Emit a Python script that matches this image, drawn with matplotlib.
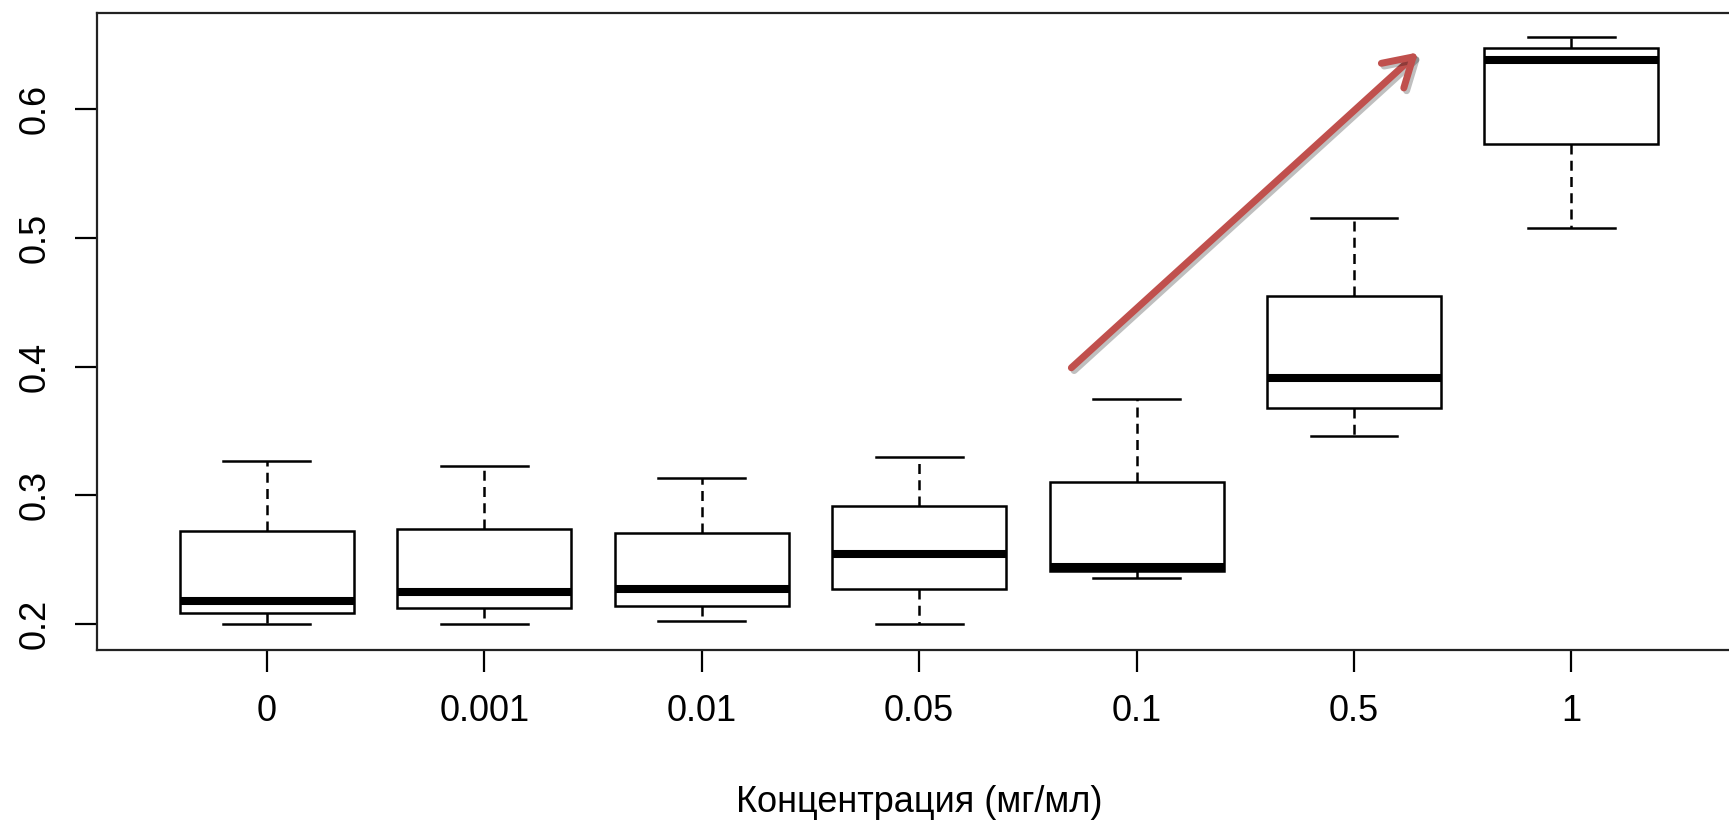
import numpy as np
import matplotlib
matplotlib.use('Agg')
import matplotlib.pyplot as plt
import matplotlib.patheffects as pe

plt.rcParams['font.family'] = ['Liberation Sans', 'DejaVu Sans']

# concentrations (mg/ml) and the five numbers of each box
concentrations = ['0', '0.001', '0.01', '0.05', '0.1', '0.5', '1']
whisker_low = [0.200, 0.200, 0.202, 0.200, 0.2357, 0.346, 0.5078]
q1 = [0.2089, 0.2127, 0.2141, 0.227, 0.2415, 0.3678, 0.573]
median = [0.2179, 0.2252, 0.227, 0.254, 0.2443, 0.391, 0.6378]
q3 = [0.272, 0.2741, 0.2703, 0.2918, 0.3103, 0.4548, 0.6472]
whisker_high = [0.3266, 0.3227, 0.3136, 0.330, 0.375, 0.5154, 0.6559]
y_ticks = [0.2, 0.3, 0.4, 0.5, 0.6]

# red arrow drawn over the chart (data coords)
arrow_from = (4.70, 0.399)
arrow_to = (6.295, 0.644)

stats = []
for i, name in enumerate(concentrations):
    stats.append(dict(label=name, whislo=whisker_low[i], q1=q1[i], med=median[i],
                      q3=q3[i], whishi=whisker_high[i], fliers=[]))

W, H = 1729, 826
fig = plt.figure(figsize=(W / 100, H / 100), dpi=100)
ax = fig.add_axes([97 / W, 1 - 650 / H, 1644 / W, 637 / H])

lw = 1.8
ax.bxp(stats, positions=range(1, 8), widths=0.8, capwidths=0.4, patch_artist=True,
       boxprops=dict(facecolor='white', edgecolor='black', linewidth=lw),
       whiskerprops=dict(color='black', linewidth=lw, linestyle=(0, (4, 2.5))),
       capprops=dict(color='black', linewidth=lw),
       medianprops=dict(color='black', linewidth=5.8, solid_capstyle='butt'),
       showfliers=False)

ax.set_xlim(0.2185, 7.78)
ax.set_ylim(0.1798, 0.6746)
ax.set_yticks(y_ticks)
ax.set_yticklabels([str(t) for t in y_ticks], rotation=90, va='center')
ax.set_xticks(range(1, 8))
ax.set_xticklabels(concentrations)
ax.tick_params(axis='both', length=15.8, width=1.6, labelsize=26, color='black')
ax.tick_params(axis='x', pad=16)
ax.tick_params(axis='y', pad=16)
for s in ax.spines.values():
    s.set_linewidth(1.6)
    s.set_color('#222222')

ax.set_xlabel('Концентрация (мг/мл)', fontsize=26, labelpad=40)

ax.annotate('', xy=arrow_to, xytext=arrow_from,
            arrowprops=dict(arrowstyle='->,head_length=1.0,head_width=0.6',
                            color='#C0504D', lw=5, mutation_scale=20,
                            capstyle='round', joinstyle='round',
                            shrinkA=0, shrinkB=0,
                            path_effects=[pe.SimpleLineShadow(offset=(2, -2), alpha=0.25),
                                          pe.Normal()]))

fig.savefig('out.png', dpi=100, facecolor='white')
